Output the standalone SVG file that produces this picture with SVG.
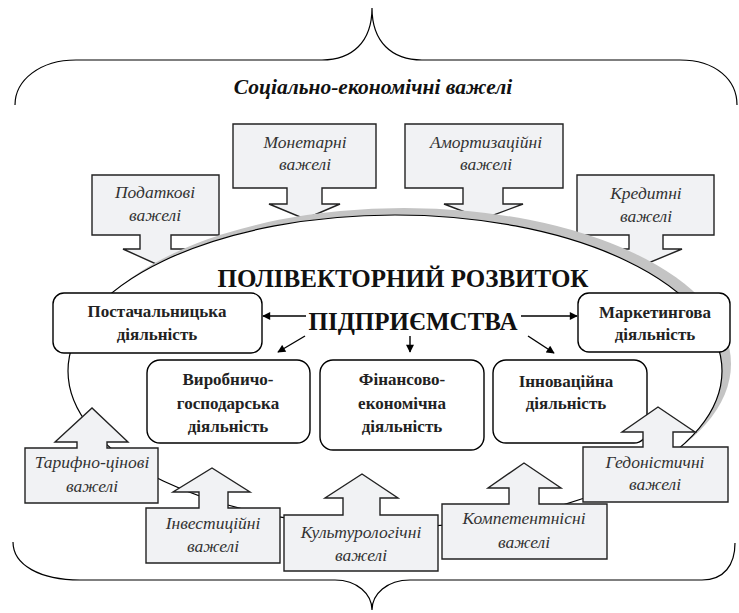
<svg xmlns="http://www.w3.org/2000/svg" width="739" height="613" viewBox="0 0 739 613">
<defs>
<style>
.brace{fill:none;stroke:#000;stroke-width:1.2}
.call{fill:#f1f2f4;stroke:#222;stroke-width:1.4;stroke-linejoin:miter}
.box{fill:#fff;stroke:#000;stroke-width:1.4}
text{font-family:"Liberation Serif","DejaVu Serif",serif}
.it{font-style:italic;font-size:17.5px;fill:#333;text-anchor:middle}
.bd{font-weight:bold;font-size:17px;fill:#222;text-anchor:middle}
.hd{font-weight:bold;font-size:25px;fill:#111;text-anchor:middle}
.ttl{font-weight:bold;font-style:italic;font-size:21.5px;fill:#111;text-anchor:middle}
.con{stroke:#000;stroke-width:1.4;fill:none}
</style>
<marker id="ah" viewBox="0 0 10 10" refX="9" refY="5" markerWidth="9" markerHeight="8" markerUnits="userSpaceOnUse" orient="auto">
<path d="M0,0 L10,5 L0,10 Z" fill="#000"/>
</marker>
<clipPath id="outside">
<path clip-rule="evenodd" d="M0,0 H739 V613 H0 Z M68,371 A327,156 0 1 0 722,371 A327,156 0 1 0 68,371 Z"/>
</clipPath>
</defs>
<rect width="739" height="613" fill="#fff"/>

<g id="brace-top">
<path class="brace" d="M15,105 C15,80 40,60 76,60 L322,60 C352,60 372,42 372,8 C372,42 392,60 422,60 L680,60 C716,60 737,80 737,105"/>
</g>
<g id="brace-bottom">
<path class="brace" d="M13,542 C13,565 40,580 80,580 L335,580 C357,580 372,594 372,610 C372,594 387,580 410,580 L702,580 C724,580 735,565 735,543"/>
</g>
<text class="ttl" x="373" y="94">Соціально-економічні важелі</text>

<g id="monetarni">
<polygon class="call" points="233,124 376,124 376,188 322,188 322,204 340,204 305,219 269,204 287,204 287,188 233,188"/>
<text class="it" x="305" y="148">Монетарні</text>
<text class="it" x="305" y="170">важелі</text>
</g>
<g id="amortyzatsiini">
<polygon class="call" points="405,124 563,124 563,188 503,188 503,204 523,204 483,219 444,204 463,204 463,188 405,188"/>
<text class="it" x="486" y="148">Амортизаційні</text>
<text class="it" x="486" y="170">важелі</text>
</g>
<g id="podatkovi">
<polygon class="call" points="92,175 219,175 219,235 171,235 171,249 188,249 156,264 123,249 140,249 140,235 92,235"/>
<text class="it" x="155" y="198">Податкові</text>
<text class="it" x="155" y="221">важелі</text>
</g>
<g id="kredytni">
<polygon class="call" points="577,175 714,175 714,235 663,235 663,249 682,249 646,264 610,249 629,249 629,235 577,235"/>
<text class="it" x="646" y="199">Кредитні</text>
<text class="it" x="646" y="222">важелі</text>
</g>

<g id="ellipse">
<ellipse cx="404" cy="364" rx="327" ry="156" fill="#c4c4c4" clip-path="url(#outside)"/>
<ellipse cx="395" cy="371" rx="327" ry="156" fill="#fff" stroke="#000" stroke-width="1.2"/>
</g>

<g id="heading">
<text class="hd" x="403" y="287">ПОЛІВЕКТОРНИЙ РОЗВИТОК</text>
<text class="hd" x="413" y="330">ПІДПРИЄМСТВА</text>
</g>

<g id="postachalnytska">
<rect class="box" x="53" y="293" width="209" height="60" rx="11"/>
<text class="bd" x="157" y="317">Постачальницька</text>
<text class="bd" x="157" y="340">діяльність</text>
</g>
<g id="marketyngova">
<rect class="box" x="578" y="293" width="152" height="59" rx="11"/>
<text class="bd" x="655" y="318">Маркетингова</text>
<text class="bd" x="655" y="340">діяльність</text>
</g>
<g id="vyrobnycho">
<rect class="box" x="147" y="360" width="163" height="83" rx="13"/>
<text class="bd" x="228" y="385">Виробничо-</text>
<text class="bd" x="228" y="409">господарська</text>
<text class="bd" x="228" y="432">діяльність</text>
</g>
<g id="finansovo">
<rect class="box" x="320" y="360" width="164" height="90" rx="13"/>
<text class="bd" x="402" y="385">Фінансово-</text>
<text class="bd" x="402" y="409">економічна</text>
<text class="bd" x="402" y="432">діяльність</text>
</g>
<g id="innovatsiina">
<rect class="box" x="493" y="360" width="154" height="83" rx="13"/>
<text class="bd" x="566" y="387">Інноваційна</text>
<text class="bd" x="566" y="409">діяльність</text>
</g>

<g id="connectors">
<line class="con" x1="306" y1="316" x2="263" y2="316" marker-end="url(#ah)"/>
<line class="con" x1="521" y1="316" x2="577" y2="316" marker-end="url(#ah)"/>
<line class="con" x1="305" y1="336" x2="278" y2="352" marker-end="url(#ah)"/>
<line class="con" x1="410" y1="336" x2="410" y2="352" marker-end="url(#ah)"/>
<line class="con" x1="528" y1="336" x2="554" y2="353" marker-end="url(#ah)"/>
</g>

<g id="taryfno">
<polygon class="call" points="25,448 77,448 77,442 55,442 92,408 128,442 107,442 107,448 158,448 158,503 25,503"/>
<text class="it" x="92" y="468">Тарифно-цінові</text>
<text class="it" x="92" y="492">важелі</text>
</g>
<g id="investytsiini">
<polygon class="call" points="146,508 199,508 199,492 173,492 212,468 250,492 228,492 228,508 280,508 280,563 146,563"/>
<text class="it" x="213" y="529">Інвестиційні</text>
<text class="it" x="213" y="552">важелі</text>
</g>
<g id="kulturologichni">
<polygon class="call" points="284,515 343,515 343,498 325,498 362,474 398,498 380,498 380,515 438,515 438,571 284,571"/>
<text class="it" x="361" y="538">Культурологічні</text>
<text class="it" x="361" y="561">важелі</text>
</g>
<g id="kompetentnisni">
<polygon class="call" points="442,504 509,504 509,488 488,488 524,463 561,488 539,488 539,504 607,504 607,559 442,559"/>
<text class="it" x="524" y="524">Компетентнісні</text>
<text class="it" x="524" y="548">важелі</text>
</g>
<g id="hedonistychni">
<polygon class="call" points="583,447 643,447 643,432 622,432 658,407 695,432 673,432 673,447 728,447 728,502 583,502"/>
<text class="it" x="655" y="468">Гедоністичні</text>
<text class="it" x="655" y="490">важелі</text>
</g>
</svg>
